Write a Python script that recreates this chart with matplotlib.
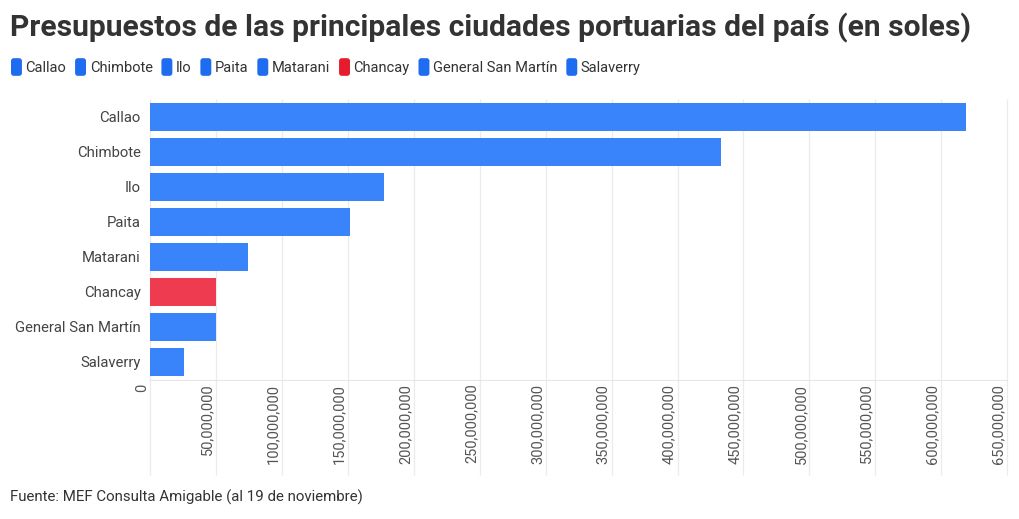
import matplotlib
matplotlib.use('Agg')
import matplotlib.pyplot as plt
from matplotlib.patches import FancyBboxPatch, Patch
from matplotlib.legend_handler import HandlerPatch
from matplotlib.transforms import ScaledTranslation
from matplotlib.ticker import FuncFormatter

plt.rcParams['font.family'] = ['Roboto', 'DejaVu Sans']

ciudades = ['Callao', 'Chimbote', 'Ilo', 'Paita', 'Matarani', 'Chancay',
            'General San Martín', 'Salaverry']
presupuesto = [618.6e6, 432.7e6, 177.3e6, 151.5e6, 74.1e6, 50.1e6, 50.0e6, 25.6e6]
colores_barra = ['#3a84fb'] * 8
colores_barra[5] = '#ee3b4f'
colores_leyenda = ['#1e6cf0'] * 8
colores_leyenda[5] = '#e51b2e'
xticks = list(range(0, 650000001, 50000000))

fig = plt.figure(figsize=(10.2, 5.19), dpi=100)
ax = fig.add_axes([150.3/1020, 1-379.5/519, (1007-150.3)/1020, (379.5-99)/519])

y = list(range(len(ciudades)))
ax.barh(y, presupuesto, height=0.8, color=colores_barra, zorder=2)
ax.set_ylim(len(ciudades)-0.5, -0.5)
ax.set_xlim(0, 650000000)
ax.set_yticks(y)
ax.set_yticklabels(ciudades, fontsize=10.7, color='#444444')
ax.set_xticks(xticks)
ax.xaxis.set_major_formatter(FuncFormatter(lambda v, p: f'{int(v):,}'))
ax.tick_params(axis='x', labelrotation=90, labelsize=10.5, labelcolor='#555555',
               length=0, pad=3)
ax.tick_params(axis='y', length=0, pad=7)
off = ScaledTranslation(-8.5/100, 0, fig.dpi_scale_trans)
for lab in ax.get_xticklabels():
    lab.set_transform(lab.get_transform() + off)
for s in ['top', 'right', 'left']:
    ax.spines[s].set_visible(False)
ax.spines['bottom'].set_color('#e6e6e6')
# vertical grid running down through the tick label area
ax.vlines(xticks, -0.34, 1, transform=ax.get_xaxis_transform(), color='#ebebeb',
          lw=0.9, zorder=0, clip_on=False)

fig.text(10/1020, 1-28/519, 'Presupuestos de las principales ciudades portuarias del país (en soles)',
         fontsize=21.6, fontweight='bold', color='#333333', va='center', ha='left')


class RoundHandler(HandlerPatch):
    def create_artists(self, legend, orig_handle, xdescent, ydescent, width, height, fontsize, trans):
        p = FancyBboxPatch((-xdescent, -ydescent - 2), width, height + 4,
                           boxstyle='round,pad=0,rounding_size=2',
                           facecolor=orig_handle.get_facecolor(), edgecolor='none', transform=trans)
        return [p]


handles = [Patch(facecolor=c) for c in colores_leyenda]
fig.legend(handles, ciudades, loc='center left', bbox_to_anchor=(11/1020, 1-68/519),
           ncol=8, frameon=False, fontsize=10.5, handlelength=0.75, handleheight=0.9,
           handletextpad=0.25, columnspacing=0.6, borderaxespad=0, borderpad=0,
           labelcolor='#333333', handler_map={Patch: RoundHandler()})

fig.text(10/1020, 1-497/519, 'Fuente: MEF Consulta Amigable (al 19 de noviembre)',
         fontsize=10.8, color='#333333', va='center', ha='left')

fig.savefig('out.png', dpi=100)
